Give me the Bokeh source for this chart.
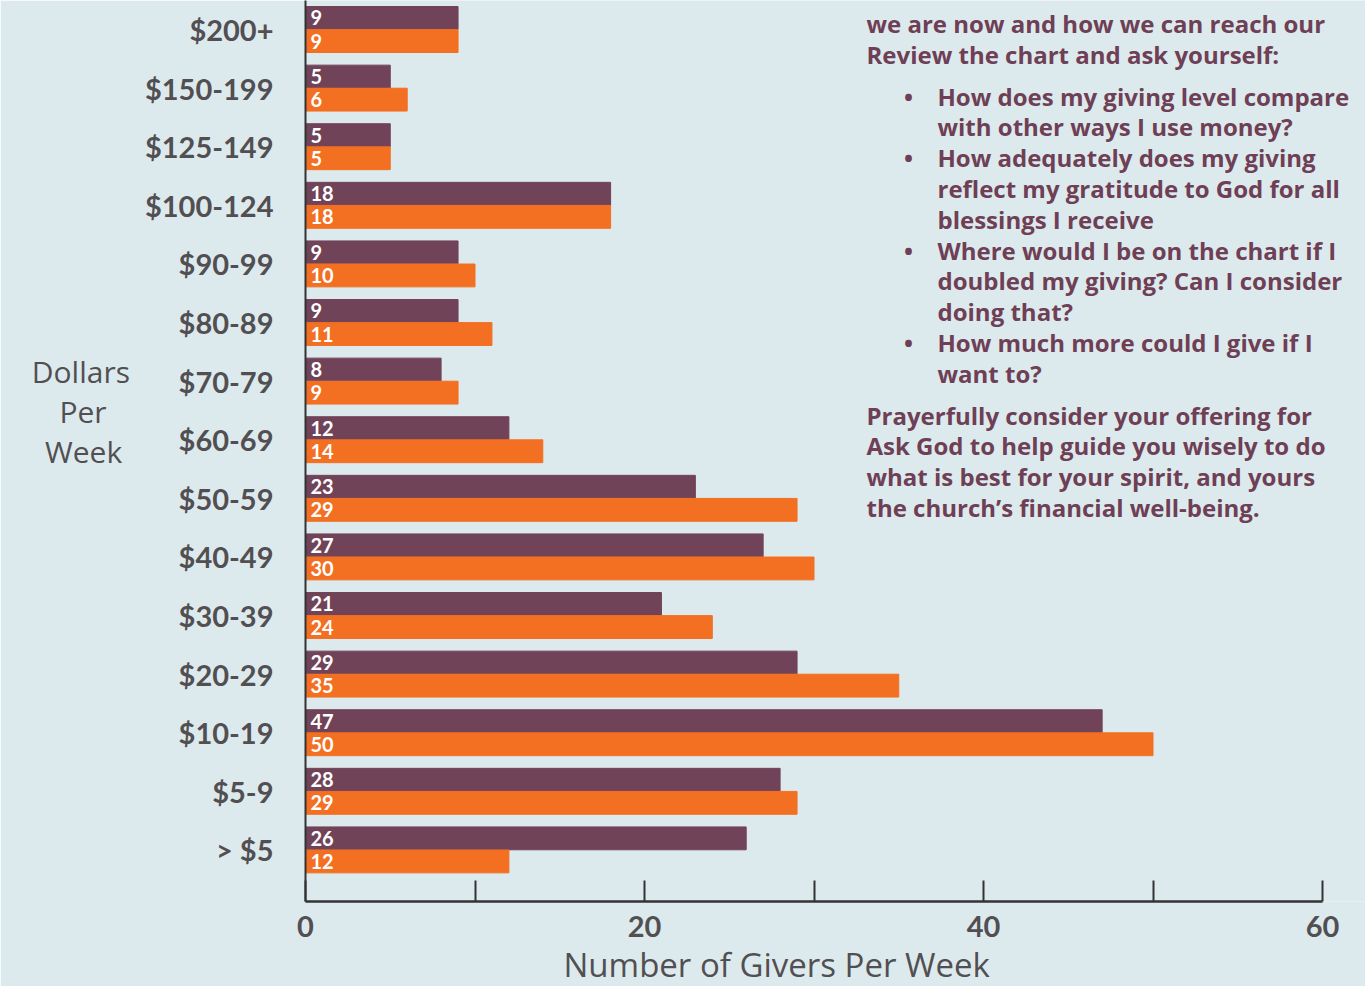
from bokeh.plotting import figure
from bokeh.models import FixedTicker, ColumnDataSource, Title
from bokeh.core.properties import value
from bokeh.embed import file_html
from bokeh.resources import INLINE

# ---------------- data ----------------
categories = ["$200+", "$150-199", "$125-149", "$100-124", "$90-99", "$80-89",
              "$70-79", "$60-69", "$50-59", "$40-49", "$30-39", "$20-29",
              "$10-19", "$5-9", "> $5"]
givers_dark = [9, 5, 5, 18, 9, 9, 8, 12, 23, 27, 21, 29, 47, 28, 26]
givers_orange = [9, 6, 5, 18, 10, 11, 9, 14, 29, 30, 24, 35, 50, 29, 12]
x_ticks = [0, 10, 20, 30, 40, 50, 60]
x_tick_labels = {0: "0", 10: "", 20: "20", 30: "", 40: "40", 50: "", 60: "60"}

side_text = [
    ("p", "we are now and how we can reach our"),
    ("p", "Review the chart and ask yourself:"),
    ("gap", ""),
    ("b", "How does my giving level compare"),
    ("c", "with other ways I use money?"),
    ("b", "How adequately does my giving"),
    ("c", "reflect my gratitude to God for all"),
    ("c", "blessings I receive"),
    ("b", "Where would I be on the chart if I"),
    ("c", "doubled my giving? Can I consider"),
    ("c", "doing that?"),
    ("b", "How much more could I give if I"),
    ("c", "want to?"),
    ("gap", ""),
    ("p", "Prayerfully consider your offering for"),
    ("p", "Ask God to help guide you wisely to do"),
    ("p", "what is best for your spirit, and yours"),
    ("p", "the church\u2019s financial well-being."),
]

# ---------------- style ----------------
BG = "#ddeaed"
DARK = "#714358"
ORANGE = "#f36f21"
GRAY = "#524f52"
TEXTC = "#6e3f55"

W, H = 1365, 986
LEFT, BOTTOM = 305, 85
ROW_PX = 58.6
n = len(categories)
ypos = [n - 1 - i for i in range(n)]

frame_w = W - LEFT
frame_h = H - BOTTOM
px_per_unit = (1322 - 305) / 60.0
x_end = frame_w / px_per_unit
top_pad = 29 / ROW_PX
y_top = (n - 1) + top_pad
y_bot = y_top - frame_h / ROW_PX

p = figure(width=W, height=H, output_backend="svg", toolbar_location=None,
           x_range=(0, x_end), y_range=(y_bot, y_top),
           min_border_left=LEFT, min_border_bottom=BOTTOM,
           min_border_top=0, min_border_right=0)
p.title.visible = False
p.background_fill_color = BG
p.border_fill_color = BG
p.outline_line_color = None
p.grid.visible = False

off = 0.197
bh = 0.39
src = ColumnDataSource(dict(
    y_dark=[y + off for y in ypos],
    y_orange=[y - off for y in ypos],
    dark=givers_dark, orange=givers_orange,
    dark_lbl=[str(v) for v in givers_dark],
    orange_lbl=[str(v) for v in givers_orange],
    zero=[0] * n,
))
p.hbar(y="y_dark", left=0, right="dark", height=bh, color=DARK, source=src)
p.hbar(y="y_orange", left=0, right="orange", height=bh, color=ORANGE, source=src)
for ycol, tcol in (("y_dark", "dark_lbl"), ("y_orange", "orange_lbl")):
    p.text(x="zero", y=ycol, text=tcol, source=src, x_offset=5,
           text_color="white", text_font=value("Lato"), text_font_style="bold",
           text_font_size="20px", text_baseline="middle", text_align="left")

# y axis
NB = "\u00a0"
ya = p.yaxis[0]
ya.ticker = FixedTicker(ticks=ypos)
ya.major_label_overrides = {y: c for y, c in zip(ypos, categories)}
ya.major_tick_out = 0
ya.major_tick_in = 0
ya.minor_tick_out = 0
ya.minor_tick_in = 0
ya.major_label_standoff = 32
ya.major_label_text_font = "Lato"
ya.major_label_text_font_style = "bold"
ya.major_label_text_font_size = "29px"
ya.major_label_text_color = GRAY
ya.axis_line_width = 2
ya.axis_line_color = "#333333"
ya.axis_label = "Dollars\nPer" + NB * 3 + "\nWeek" + NB + "\n\n"
ya.axis_label_orientation = "horizontal"
ya.axis_label_standoff = 12
ya.axis_label_text_font = "Open Sans"
ya.axis_label_text_font_style = "normal"
ya.axis_label_text_font_size = "30px"
ya.axis_label_text_color = GRAY
ya.axis_label_text_line_height = 0.97

# x axis
xa = p.xaxis[0]
xa.ticker = FixedTicker(ticks=x_ticks)
xa.bounds = (0, 60)
xa.major_label_overrides = x_tick_labels
xa.major_tick_in = 21
xa.major_tick_out = 0
xa.minor_tick_in = 0
xa.minor_tick_out = 0
xa.major_tick_line_width = 2
xa.major_tick_line_color = "#333333"
xa.axis_line_width = 2.5
xa.axis_line_color = "#333333"
xa.major_label_standoff = 14
xa.major_label_text_font = "Lato"
xa.major_label_text_font_style = "bold"
xa.major_label_text_font_size = "29px"
xa.major_label_text_color = GRAY

xtitle = Title(text="Number of Givers Per Week", align="left", offset=258,
               standoff=0, text_font="Open Sans", text_font_style="normal",
               text_font_size="33px", text_color=GRAY)
p.add_layout(xtitle, "below")


def sx(screen_x):
    return (screen_x - 305) / px_per_unit


def sy(screen_y):
    return (n - 1) + (29 - screen_y) / ROW_PX


# side text
tx, ty, tt = [], [], []
bx, by = [], []
cur = 23.0
for kind, txt in side_text:
    if kind == "gap":
        cur += 11
        continue
    tx.append(sx(866) if kind == "p" else sx(937))
    ty.append(sy(cur))
    tt.append(txt)
    if kind == "b":
        bx.append(sx(908))
        by.append(sy(cur))
    cur += 30.8

p.text(x=tx, y=ty, text=tt, text_color=TEXTC, text_font=value("Open Sans"),
       text_font_style="bold", text_font_size="24px",
       text_baseline="middle", text_align="left")
p.text(x=bx, y=by, text=["\u2022"] * len(bx), text_color=TEXTC,
       text_font=value("Open Sans"), text_font_style="bold", text_font_size="24px",
       text_baseline="middle", text_align="center")

open("out.html", "w").write(file_html(p, INLINE))
